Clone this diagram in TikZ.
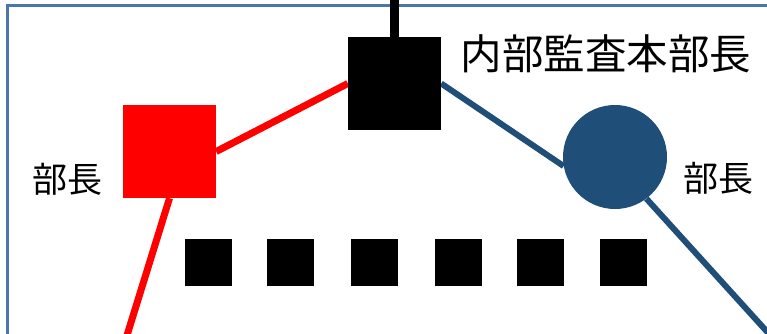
\documentclass[tikz,border=0pt]{standalone}
\usepackage{fontspec}
\newfontfamily\jpfont{Noto Sans CJK JP}
\usetikzlibrary{backgrounds}
\definecolor{frameblue}{RGB}{74,118,168}
\definecolor{navy}{RGB}{31,78,121}
\definecolor{pred}{RGB}{255,0,0}
\begin{document}
\begin{tikzpicture}[x=1pt,y=-1pt,
  bigsq/.style={rectangle, minimum size=93pt, inner sep=0pt, draw=none},
  smallsq/.style={rectangle, fill=black, minimum size=47pt, inner sep=0pt, draw=none},
  lbl/.style={inner sep=0pt, font=\jpfont\fontsize{35}{40}\selectfont},
  toplbl/.style={inner sep=0pt, font=\jpfont\fontsize{41.5}{46}\selectfont},
  redline/.style={draw=pred, line width=7pt},
  blueline/.style={draw=navy, line width=6pt},
  blackline/.style={draw=black, line width=9pt}]
\useasboundingbox (0,0) rectangle (767,333);
\clip (0,0) rectangle (767,333);
% shapes
\node[bigsq, fill=black] (top) at (394.5,83.5) {};
\node[bigsq, fill=pred] (red) at (169.5,151.5) {};
\node[circle, fill=navy, minimum size=104pt, inner sep=0pt] (blu) at (615,157) {};
\foreach \i/\x in {1/208.5,2/290.5,3/374.5,4/458.5,5/540.5,6/623.5}
  \node[smallsq] (s\i) at (\x,262.5) {};
% labels
\node[toplbl] (ttl) at (606,54) {内部監査本部長};
\node[lbl] (lred) at (67,179) {部長};
\node[lbl] (lblu) at (718,178) {部長};
% free ends
\coordinate (upEnd) at (394.5,-10);
\coordinate (redEnd) at (124,345);
\coordinate (bluEnd) at (780,346);
\begin{scope}[on background layer]
\draw[frameblue, line width=3pt] (7.5,5.5) rectangle (820,400);
\draw[blackline] (top.north) -- (upEnd);
\draw[redline] (red.east) -- (top.west);
\draw[redline] (red.south) -- (redEnd);
\draw[blueline] (top.east) -- (blu.190);
\draw[blueline] (blu.-53) -- (bluEnd);
\end{scope}
\end{tikzpicture}
\end{document}
